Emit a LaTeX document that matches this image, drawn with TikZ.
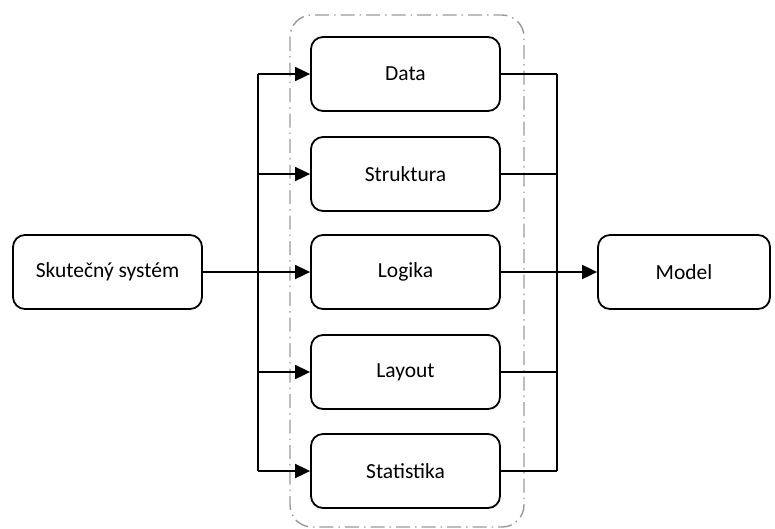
\documentclass[tikz,border=0pt]{standalone}
\usepackage{fontspec}
\setmainfont{Carlito}
\usetikzlibrary{arrows.meta}
\begin{document}
\begin{tikzpicture}[x=1pt,y=-1pt,
  box/.style={draw,line width=1.8pt,rounded corners=12pt,minimum width=189pt,minimum height=74pt,font=\fontsize{21.5}{24}\selectfont,inner sep=0pt},
  wire/.style={line width=1.8pt},
  arr/.style={wire,-{Triangle[length=15pt,width=14pt]}},
  group/.style={draw=black!40,line width=1.4pt,dash pattern=on 14pt off 5pt on 1.5pt off 5pt,rounded corners=22pt}]
\useasboundingbox (0,0) rectangle (775,528);
% surrounding group of aspects
\draw[group] (290,15) rectangle (524,527);
% nodes
\node[box] (sys) at (107.5,272) {Skutečný systém};
\node[box] (data) at (405.5,74) {Data};
\node[box] (strk) at (405.5,174) {Struktura};
\node[box] (logk) at (405.5,272) {Logika};
\node[box] (layt) at (405.5,372) {Layout};
\node[box] (stat) at (405.5,471) {Statistika};
\node[box,minimum width=172pt] (model) at (684,272) {Model};
\coordinate (busL) at (258,0);
\coordinate (busR) at (557,0);
% distribution bus on the left
\draw[wire] (busL |- data) -- (busL |- stat);
\draw[arr] (sys.east) -- (logk.west);
\foreach \n in {data,strk,layt,stat}
  \draw[arr] (busL |- \n) -- (\n.west);
% collecting bus on the right
\draw[wire] (busR |- data) -- (busR |- stat);
\foreach \n in {data,strk,layt,stat}
  \draw[wire] (\n.east) -- (busR |- \n);
\draw[arr] (logk.east) -- (model.west);
\end{tikzpicture}
\end{document}
